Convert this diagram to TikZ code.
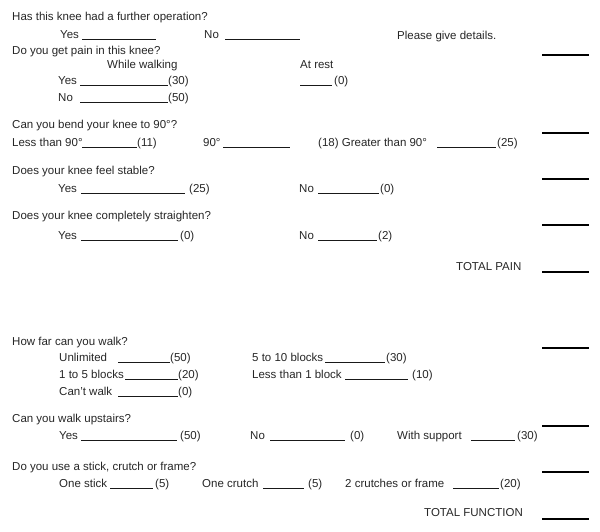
\documentclass[tikz,border=0pt]{standalone}
\usepackage{fontspec}
\setmainfont{Liberation Sans}
\usepackage{tikz}

\begin{document}
\begin{tikzpicture}[x=1pt,y=-1pt]
            \tikzstyle{txt}=[anchor=base west,inner sep=0pt,text=black!85,font=\fontsize{11.5}{13}\selectfont]
            \tikzstyle{blank}=[draw=black!90,line width=0.9pt]
            \tikzstyle{score}=[draw=black,line width=1.7pt]
                \useasboundingbox (0,0) rectangle (600,531);

                % pain
                \node[txt] (Q-1) at (12, 20){Has this knee had a further operation?};
                \node[txt] (A-1) at (60, 38){Yes};
                \node[txt] (A-2) at (204, 38){No};
                \node[txt] (A-3) at (397, 39){Please give details.};

                \node[txt] (Q-2) at (12, 54){Do you get pain in this knee?};
                \node[txt] (A-4) at (107, 68){While walking};
                \node[txt] (A-5) at (300, 68){At rest};
                \node[txt] (A-6) at (58, 84){Yes};
                \node[txt] (P-1) at (168, 84){(30)};
                \node[txt] (P-2) at (334, 84){(0)};
                \node[txt] (A-7) at (58, 101){No};
                \node[txt] (P-3) at (168, 101){(50)};

                \node[txt] (Q-3) at (12, 128){Can you bend your knee to 90°?};
                \node[txt] (A-8) at (12, 146){Less than 90°};
                \node[txt] (P-4) at (137, 146){(11)};
                \node[txt] (A-9) at (203, 146){90°};
                \node[txt] (A-10) at (318, 146){(18) Greater than 90°};
                \node[txt] (P-5) at (497, 146){(25)};

                \node[txt] (Q-4) at (12, 174){Does your knee feel stable?};
                \node[txt] (A-11) at (58, 192){Yes};
                \node[txt] (P-6) at (189, 192){(25)};
                \node[txt] (A-12) at (299, 192){No};
                \node[txt] (P-7) at (380, 192){(0)};

                \node[txt] (Q-5) at (12, 219){Does your knee completely straighten?};
                \node[txt] (A-13) at (58, 239){Yes};
                \node[txt] (P-8) at (180, 239){(0)};
                \node[txt] (A-14) at (299, 239){No};
                \node[txt] (P-9) at (378, 239){(2)};

                \node[txt] (T-1) at (456, 270){TOTAL PAIN};

                % function
                \node[txt] (Q-6) at (12, 345){How far can you walk?};
                \node[txt] (A-15) at (59, 361){Unlimited};
                \node[txt] (P-10) at (170, 361){(50)};
                \node[txt] (A-16) at (252, 361){5 to 10 blocks};
                \node[txt] (P-11) at (386, 361){(30)};
                \node[txt] (A-17) at (59, 378){1 to 5 blocks};
                \node[txt] (P-12) at (178, 378){(20)};
                \node[txt] (A-18) at (252, 378){Less than 1 block};
                \node[txt] (P-13) at (412, 378){(10)};
                \node[txt] (A-19) at (59, 395){Can't walk};
                \node[txt] (P-14) at (178, 395){(0)};

                \node[txt] (Q-7) at (12, 422){Can you walk upstairs?};
                \node[txt] (A-20) at (59, 439){Yes};
                \node[txt] (P-15) at (180, 439){(50)};
                \node[txt] (A-21) at (250, 439){No};
                \node[txt] (P-16) at (350, 439){(0)};
                \node[txt] (A-22) at (397, 439){With support};
                \node[txt] (P-17) at (517, 439){(30)};

                \node[txt] (Q-8) at (12, 470){Do you use a stick, crutch or frame?};
                \node[txt] (A-23) at (59, 487){One stick};
                \node[txt] (P-18) at (155, 487){(5)};
                \node[txt] (A-24) at (202, 487){One crutch};
                \node[txt] (P-19) at (308, 487){(5)};
                \node[txt] (A-25) at (345, 487){2 crutches or frame};
                \node[txt] (P-20) at (500, 487){(20)};

                \node[txt] (T-2) at (424, 516){TOTAL FUNCTION};

                % blanks to fill in
                \foreach \from/\to/\y in {82/156/39, 225/300/39, 80/168/85, 300/332/85, 80/168/102,
                        82/137/147, 223/290/147, 437/496/147, 81/185/193, 318/379/193,
                        81/178/240, 318/377/240, 118/170/362, 325/385/362, 125/178/379,
                        345/408/379, 118/178/396, 81/177/440, 270/345/440, 471/515/440,
                        110/153/488, 263/304/488, 453/499/488}
                    \draw[blank] (\from, \y) -- (\to, \y);

                % score column
                \foreach \y in {55, 133, 179, 225, 272, 348, 426, 472, 519}
                    \draw[score] (542, \y) -- (589, \y);
        \end{tikzpicture}
\end{document}
